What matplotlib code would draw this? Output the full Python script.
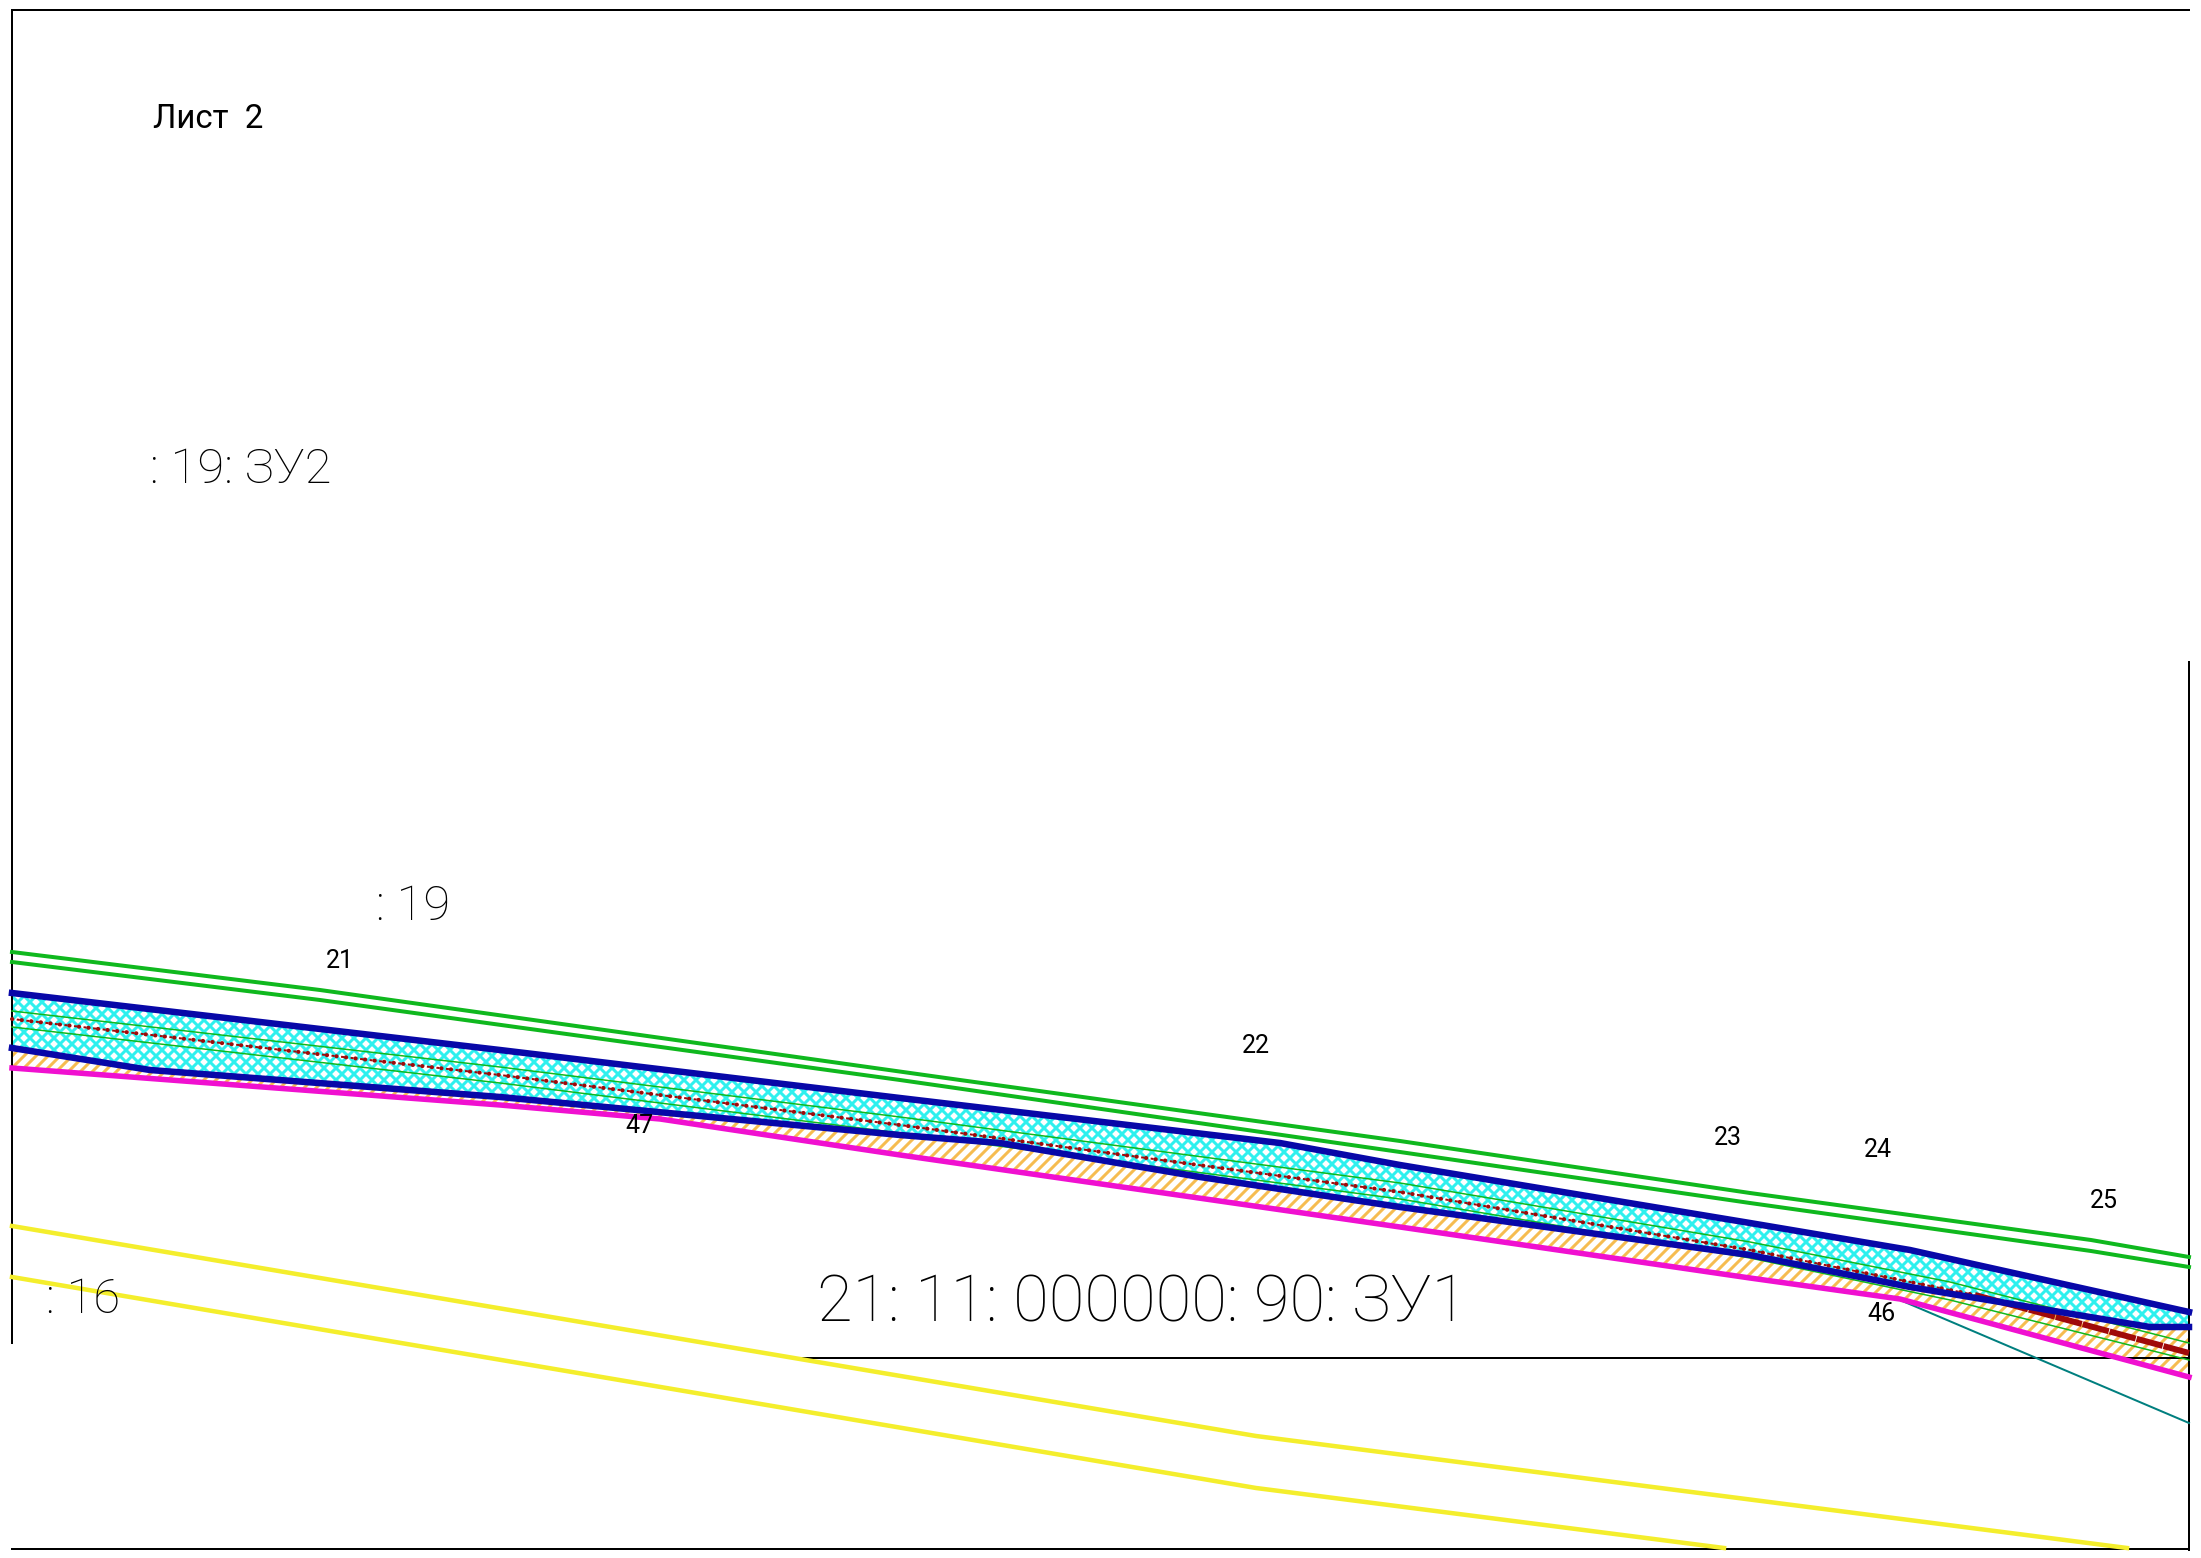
import matplotlib
matplotlib.use('Agg')
import matplotlib.pyplot as plt

# all values, in image pixels (y goes down)
green_top_x = [12, 320, 960, 1400, 1750, 2091, 2189]
green_top_y = [952, 990, 1080, 1141, 1193, 1240, 1257]
green_low_x = [12, 320, 900, 1400, 1750, 2091, 2189]
green_low_y = [962, 1000, 1080, 1152, 1203, 1251, 1267]

blue_top_x = [12, 500, 900, 1280, 1400, 1750, 1910, 2189]
blue_top_y = [993, 1050, 1098, 1143, 1165, 1223, 1250, 1312]
blue_low_x = [12, 150, 500, 900, 1000, 1100, 1200, 1300, 1400, 1750, 1910, 2150, 2189]
blue_low_y = [1048, 1070, 1097, 1135, 1143, 1160, 1177, 1192, 1207, 1255, 1287, 1327, 1327]

pink_x = [12, 500, 660, 900, 1400, 1750, 1900, 2189]
pink_y = [1068, 1105, 1119, 1155, 1227, 1278, 1299, 1377]

inner_top_x = [12, 500, 900, 1400, 1750, 1950, 2189]
inner_top_y = [1011, 1067, 1117, 1183, 1242, 1282, 1343]
inner_low_x = [12, 500, 900, 1400, 1750, 1950, 2189]
inner_low_y = [1027, 1083, 1133, 1199, 1258, 1300, 1360]

axis_x = [12, 500, 900, 1400, 1750, 1975]
axis_y = [1019, 1075, 1125, 1192, 1250, 1295]
axis_end_x = [1975, 2189]
axis_end_y = [1295, 1353]

teal_x = [1900, 2189]
teal_y = [1300, 1423]

yellow_a_x = [12, 1256, 2127]
yellow_a_y = [1226, 1436, 1548]
yellow_b_x = [12, 1256, 1724]
yellow_b_y = [1277, 1488, 1548]

frame_lines = [
    ([12, 2189], [10, 10]),
    ([12, 12], [10, 1343]),
    ([2189, 2189], [662, 1550]),
    ([12, 2189], [1549, 1549]),
    ([793, 2189], [1358, 1358]),
]

labels = ['21', '22', '23', '24', '25', '46', '47']
label_x = [340, 1256, 1728, 1878, 2104, 1881, 639]
label_y = [961, 1046, 1138, 1150, 1201, 1314, 1126]

big_text = [': 19: ЗУ2', ': 19', ': 16', '21: 11: 000000: 90: ЗУ1']
big_x = [150, 376, 46, 817]
big_y = [470, 907, 1300, 1304]
big_size = [49, 49, 49, 65]

plt.rcParams['font.family'] = ['Roboto', 'DejaVu Sans']

# dpi 72 so that one point is one pixel
fig = plt.figure(figsize=(2201 / 72, 1558 / 72), dpi=72)
ax = fig.add_axes([0, 0, 1, 1])
ax.set_xlim(0, 2201)
ax.set_ylim(1558, 0)
ax.axis('off')

# hatched strips between the outlines
plt.rcParams['hatch.linewidth'] = 3.0
ax.fill(blue_top_x + blue_low_x[::-1], blue_top_y + blue_low_y[::-1], facecolor='white',
        edgecolor='#2ff0ee', hatch='xx', linewidth=0, zorder=1)
ax.fill(blue_low_x + pink_x[::-1], blue_low_y + pink_y[::-1], facecolor='white',
        edgecolor='#f6bc50', hatch='//', linewidth=0, zorder=1)

for xs, ys in frame_lines:
    ax.plot(xs, ys, color='black', lw=2, zorder=2)

ax.plot(yellow_a_x, yellow_a_y, color='#f4ee2c', lw=4.5, zorder=2)
ax.plot(yellow_b_x, yellow_b_y, color='#f4ee2c', lw=4.5, zorder=2)
ax.plot(teal_x, teal_y, color='#007f7f', lw=2, zorder=2)

ax.plot(green_top_x, green_top_y, color='#0fb81e', lw=4, zorder=3)
ax.plot(green_low_x, green_low_y, color='#0fb81e', lw=4, zorder=3)
ax.plot(inner_top_x, inner_top_y, color='#0fb81e', lw=1.5, zorder=3)
ax.plot(inner_low_x, inner_low_y, color='#0fb81e', lw=1.5, zorder=3)

# dots with a short dash between them, then the thick dashed end of the same line
ax.plot(axis_x, axis_y, color='#a00a0a', lw=4, ls=(0, (0.1, 2.3)), dash_capstyle='round', zorder=4)
ax.plot(axis_x, axis_y, color='#a00a0a', lw=2, ls=(2.4, (1.5, 3.3)), zorder=4)
ax.plot(axis_end_x, axis_end_y, color='#a00a0a', lw=6, ls=(0, (4.5, 0.15)), zorder=4)

ax.plot(pink_x, pink_y, color='#f010d0', lw=5.5, zorder=5)
ax.plot(blue_top_x, blue_top_y, color='#0808a8', lw=6.5, zorder=6)
ax.plot(blue_low_x, blue_low_y, color='#0808a8', lw=6.5, zorder=6)

for txt, x, y in zip(labels, label_x, label_y):
    ax.text(x, y, txt, fontsize=25, ha='center', va='center', zorder=7)
ax.text(153, 119, 'Лист  2', fontsize=33, ha='left', va='center', zorder=7)
for txt, x, y, size in zip(big_text, big_x, big_y, big_size):
    ax.text(x, y, txt, fontsize=size, fontweight='light', color='black', ha='left', va='center', zorder=7)

fig.savefig('out.png', dpi=72)
